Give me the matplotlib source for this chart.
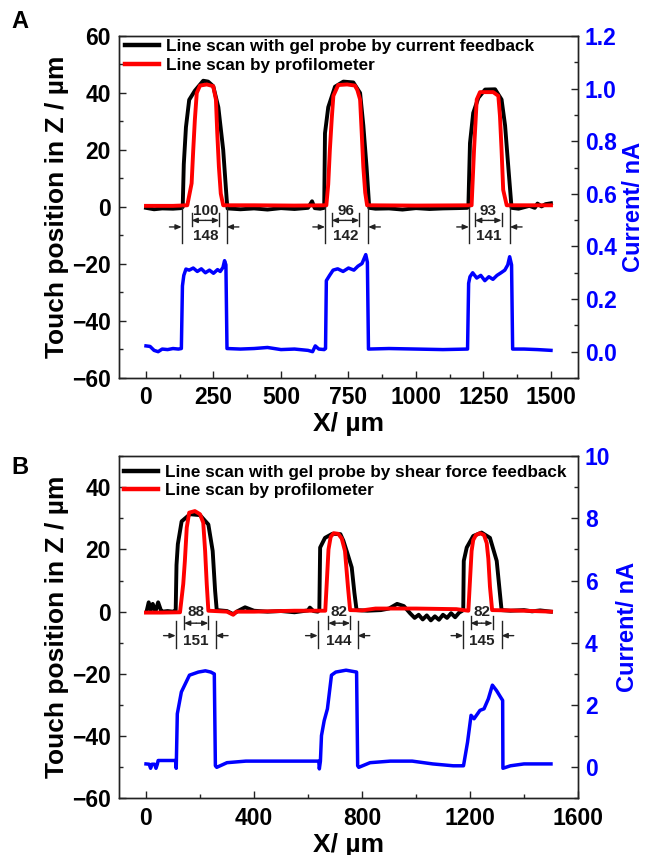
import matplotlib
matplotlib.use("Agg")
import matplotlib.pyplot as plt
from matplotlib.ticker import MultipleLocator

plt.rcParams['font.family'] = ['Liberation Sans', 'DejaVu Sans']
plt.rcParams['font.weight'] = 'bold'

# ---------------- Panel A data ----------------
a_black_x = [0, 30, 60, 100, 130, 136, 140, 148, 160, 181, 212, 230, 249, 268, 286, 299, 302,
             350, 400, 450, 500, 550, 600, 615, 625, 645, 660, 663, 675, 700, 731, 768, 793, 805,
             817, 827, 850, 900, 950, 1000, 1050, 1100, 1150, 1190, 1194, 1200, 1212, 1231, 1256,
             1293, 1317, 1330, 1342, 1354, 1380, 1420, 1440, 1450, 1465, 1480, 1500]
a_black_y = [-0.3, -0.8, -0.5, -0.6, -0.4, 0, 15, 28, 37.6, 40.8, 44.3, 44, 42.4, 35, 20, 2.5, -0.5,
             -0.8, -0.5, -0.9, -0.4, -0.7, -0.3, 2, -0.4, -0.6, -0.3, 25.9, 35, 42.2, 44, 43.7, 40, 28.6,
             14, -0.3, -0.6, -0.5, -0.9, -0.4, -0.7, -0.5, -0.4, -0.3, 0, 22.4, 33, 38.3, 41.2,
             41.3, 37.7, 28.6, 14, -0.3, -0.6, 0.4, -0.3, 1.2, 0.2, 1.0, 1.3]

a_red_x = [0, 100, 153, 169, 175, 181, 188, 200, 225, 249, 259, 264, 270, 277, 286,
           400, 550, 668, 675, 681, 688, 694, 712, 745, 774, 783, 793, 799, 805, 812, 819,
           1000, 1206, 1215, 1225, 1237, 1286, 1305, 1311, 1317, 1323, 1336, 1500]
a_red_y = [0.4, 0.4, 0.6, 8.3, 20, 30.6, 40, 42.6, 43, 42.4, 37.7, 25.9, 14.1, 4.7, 0.6,
           0.6, 0.5, 0.6, 8, 20, 31, 39, 42.8, 43, 42.6, 41, 37.7, 26, 14, 5, 0.6,
           0.5, 0.6, 20, 37.7, 40.3, 40.3, 39, 32, 20, 6, 0.6, 0.6]

a_blue_x = [0, 15, 30, 45, 60, 80, 100, 120, 131, 135, 140, 148, 160, 175, 190, 205, 220, 235, 250,
            265, 275, 285, 291, 296, 300, 350, 400, 450, 500, 550, 600, 617, 627, 640, 660, 665,
            668, 680, 693, 710, 730, 750, 770, 785, 800, 814, 820, 824, 900, 1000, 1100, 1191,
            1195, 1200, 1210, 1225, 1240, 1255, 1270, 1285, 1300, 1315, 1329, 1340, 1347, 1354,
            1358, 1400, 1450, 1500]
a_blue_y = [0.022, 0.02, 0.005, 0.0, 0.01, 0.008, 0.012, 0.01, 0.012, 0.25, 0.29, 0.314, 0.31, 0.318,
            0.305, 0.315, 0.3, 0.31, 0.298, 0.312, 0.305, 0.32, 0.346, 0.33, 0.012, 0.01, 0.012,
            0.016, 0.008, 0.01, 0.005, 0.0, 0.022, 0.01, 0.008, 0.012, 0.27, 0.29, 0.31, 0.315,
            0.305, 0.318, 0.31, 0.325, 0.335, 0.369, 0.34, 0.01, 0.012, 0.01, 0.008, 0.01, 0.26,
            0.285, 0.3, 0.28, 0.29, 0.27, 0.285, 0.275, 0.29, 0.3, 0.31, 0.33, 0.361, 0.33, 0.01,
            0.01, 0.008, 0.005]

a_inner_w = [100, 96, 93]
a_outer_w = [148, 142, 141]
a_inner_l = [169, 688, 1219]
a_inner_r = [271, 790, 1317]
a_outer_l = [132, 663, 1196]
a_outer_r = [299, 823, 1348]

# ---------------- Panel B data ----------------
b_black_x = [2, 10, 18, 25, 35, 45, 55, 60, 80, 100, 110, 113, 118, 132, 163, 200, 231, 247, 256, 262,
             300, 323, 340, 367, 400, 450, 500, 550, 600, 607, 620, 636, 642, 645, 663, 690, 720,
             731, 745, 762, 772, 780, 820, 870, 900, 930, 955, 978, 995, 1010, 1025, 1040, 1055,
             1070, 1085, 1100, 1115, 1130, 1145, 1160, 1170, 1175, 1177, 1188, 1212, 1243, 1274,
             1299, 1317, 1350, 1400, 1430, 1460, 1500]
b_black_y = [0, 3, 0.5, 2.5, 0, 3, 0.5, 0, 0.2, 0, 0.5, 15, 21.7, 29, 31.3, 31, 28, 19.5, 6.7, 0.5,
             0.2, -0.8, 0.2, 1.4, 0.3, 0, 0.2, -0.2, 0.4, 1.3, 0.2, 0, 0.5, 20.6, 23.7, 25, 24.9,
             22.8, 19, 14.2, 6, 0.5, 0.3, 0.5, 1, 2.5, 1.8, -0.5, -2, -1, -2.5, -1.2, -2.8,
             -1.5, -2.6, -1, -2, -0.5, -1.8, -0.3, 0.2, 0.5, 16.3, 20.6, 24.3, 25.4, 23.7,
             16.3, 0.5, 0.3, 0.5, 0.1, 0.4, 0]

b_red_x = [0, 60, 126, 138, 144, 151, 160, 181, 200, 212, 219, 225, 231, 300, 323, 335, 400, 550,
           664, 670, 676, 684, 695, 712, 725, 737, 748, 756, 800, 850, 1000, 1150, 1194, 1200,
           1206, 1212, 1222, 1237, 1252, 1262, 1268, 1274, 1282, 1400, 1500]
b_red_y = [-0.3, -0.3, -0.2, 8.9, 16.3, 27, 31.8, 32.3, 31.3, 28.6, 19.5, 8.9, 0.3, 0, -1, 0, 0, 0.3,
           0.3, 10, 20, 24, 25.2, 25, 23.5, 19.5, 8, 0.5, 0.4, 1, 1, 0.8, 0.3, 10,
           19.5, 23, 24.6, 25.2, 24.6, 22, 17, 8, 0.5, 0.3, 0]

b_blue_x = [0, 12, 17, 22, 32, 37, 42, 45, 87, 110, 112, 116, 131, 161, 194, 220, 240, 253, 257,
            262, 300, 370, 500, 640, 642, 646, 650, 660, 672, 687, 703, 741, 780, 784, 788, 830,
            905, 986, 1062, 1138, 1168, 1176, 1191, 1204, 1215, 1237, 1252, 1268, 1283, 1298,
            1313, 1321, 1322, 1350, 1400, 1500]
b_blue_y = [0.11, 0.1, -0.03, 0.1, 0.1, -0.03, 0.1, 0.22, 0.22, 0.22, -0.03, 1.72, 2.42, 2.96, 3.06,
            3.1, 3.06, 3.0, 0.05, 0.0, 0.15, 0.2, 0.2, 0.2, -0.05, 0.2, 1.02, 1.5, 1.88, 2.96,
            3.06, 3.12, 3.06, 0.05, 0.0, 0.15, 0.2, 0.2, 0.11, 0.05, 0.05, 0.05, 0.81, 1.67,
            1.56, 1.83, 1.88, 2.2, 2.64, 2.47, 2.26, 2.15, -0.03, 0.05, 0.11, 0.11]

b_inner_w = [88, 82, 82]
b_outer_w = [151, 144, 145]
b_inner_l = [141, 675, 1202]
b_inner_r = [231, 756, 1284]
b_outer_l = [110, 636, 1175]
b_outer_r = [259, 784, 1317]

legend_a = ['Line scan with gel probe by current feedback', 'Line scan by profilometer']
legend_b = ['Line scan with gel probe by shear force feedback', 'Line scan by profilometer']

BLUE = '#0000FF'
RED = '#FF0000'
TICK_FS = 16.5
LABEL_FS = 19
RLABEL_FS = 17
LEG_FS = 12.3
ANN_FS = 11

fig = plt.figure(figsize=(6.46, 8.55), dpi=100)


def style_axes(ax, ax2):
    for a in (ax, ax2):
        for s in a.spines.values():
            s.set_linewidth(1.0)
            s.set_color('#222222')
    ax.tick_params(axis='both', which='both', direction='in', top=False, right=False,
                   labelsize=TICK_FS, width=1.0, colors='#222222', labelcolor='black')
    ax.tick_params(which='major', length=5, pad=6)
    ax.tick_params(which='minor', length=3)
    ax2.tick_params(axis='y', which='both', direction='in', labelsize=TICK_FS, width=1.0,
                    colors='#222222', labelcolor=BLUE)
    ax2.tick_params(which='major', length=5, pad=5)
    ax2.tick_params(which='minor', length=3)
    for lab in ax.get_xticklabels() + ax.get_yticklabels() + ax2.get_yticklabels():
        lab.set_fontweight('bold')


def annotate_widths(ax, il, ir, ol, or_, iw, ow, y_txt1, y_in_top, y_in_bot, y_in_arr,
                    y_out_top, y_out_bot, y_out_arr, y_txt2, arrow_len):
    ap = dict(arrowstyle='-|>,head_length=0.35,head_width=0.15', color='#222222', lw=1.0,
              shrinkA=0, shrinkB=0)
    for k in range(len(iw)):
        xc = (il[k] + ir[k]) / 2
        for xv in (il[k], ir[k]):
            ax.plot([xv, xv], [y_in_top, y_in_bot], color='#222222', lw=1.0)
        ax.annotate('', xy=(il[k], y_in_arr), xytext=(xc, y_in_arr), arrowprops=ap)
        ax.annotate('', xy=(ir[k], y_in_arr), xytext=(xc, y_in_arr), arrowprops=ap)
        ax.text(xc, y_txt1, str(iw[k]), ha='center', va='center', fontsize=ANN_FS,
                fontweight='bold', color='#222222')
        for xv in (ol[k], or_[k]):
            ax.plot([xv, xv], [y_out_top, y_out_bot], color='#222222', lw=1.0)
        ax.annotate('', xy=(ol[k], y_out_arr), xytext=(ol[k] - arrow_len, y_out_arr), arrowprops=ap)
        ax.annotate('', xy=(or_[k], y_out_arr), xytext=(or_[k] + arrow_len, y_out_arr), arrowprops=ap)
        ax.text(xc, y_txt2, str(ow[k]), ha='center', va='center', fontsize=ANN_FS,
                fontweight='bold', color='#222222')


def add_legend(ax, anchor):
    lg = ax.legend(loc='upper left', bbox_to_anchor=anchor, frameon=False, fontsize=LEG_FS,
                   handlelength=2.0, handletextpad=0.4, labelspacing=0.22, borderpad=0,
                   borderaxespad=0)
    for t in lg.get_texts():
        t.set_fontweight('bold')
    for l in lg.get_lines():
        l.set_linewidth(3.2)


# ---------------- Panel A ----------------
axA = fig.add_axes([0.1842, 0.5579, 0.7105, 0.4])
axA.plot(a_black_x, a_black_y, color='black', lw=2.8, solid_joinstyle='round', label=legend_a[0])
axA.plot(a_red_x, a_red_y, color=RED, lw=2.8, solid_joinstyle='round', label=legend_a[1])
axA.set_xlim(-100, 1600)
axA.set_ylim(-60, 60)
axA.xaxis.set_major_locator(MultipleLocator(250))
axA.xaxis.set_minor_locator(MultipleLocator(125))
axA.yaxis.set_major_locator(MultipleLocator(20))
axA.yaxis.set_minor_locator(MultipleLocator(10))
axA2 = axA.twinx()
axA2.plot(a_blue_x, a_blue_y, color=BLUE, lw=2.5, solid_joinstyle='round')
axA2.set_ylim(-0.1, 1.2)
axA2.yaxis.set_major_locator(MultipleLocator(0.2))
axA2.yaxis.set_minor_locator(MultipleLocator(0.1))
axA2.yaxis.set_major_formatter(matplotlib.ticker.FormatStrFormatter('%.1f'))
style_axes(axA, axA2)
axA.set_ylabel('Touch position in Z / µm', fontsize=LABEL_FS, fontweight='bold', labelpad=2)
axA2.set_ylabel('Current/ nA', fontsize=RLABEL_FS, fontweight='bold', color=BLUE, labelpad=4)
axA.set_xlabel('X/ µm', fontsize=LABEL_FS, fontweight='bold', labelpad=2)
add_legend(axA, (0.012, 0.99))
annotate_widths(axA, a_inner_l, a_inner_r, a_outer_l, a_outer_r, a_inner_w, a_outer_w,
                y_txt1=-1.3, y_in_top=-2.2, y_in_bot=-6.5, y_in_arr=-4.7,
                y_out_top=-0.1, y_out_bot=-12.5, y_out_arr=-7.0, y_txt2=-10.3, arrow_len=45)
fig.text(20 / 646, 1 - 22 / 855, 'A', fontsize=17, fontweight='bold', ha='center', va='center')

# ---------------- Panel B ----------------
axB = fig.add_axes([0.1842, 0.0661, 0.7105, 0.4006])
axB.plot(b_black_x, b_black_y, color='black', lw=2.8, solid_joinstyle='round', label=legend_b[0])
axB.plot(b_red_x, b_red_y, color=RED, lw=2.8, solid_joinstyle='round', label=legend_b[1])
axB.set_xlim(-100, 1600)
axB.set_ylim(-60, 50)
axB.xaxis.set_major_locator(MultipleLocator(400))
axB.xaxis.set_minor_locator(MultipleLocator(200))
axB.yaxis.set_major_locator(MultipleLocator(20))
axB.yaxis.set_minor_locator(MultipleLocator(10))
axB2 = axB.twinx()
axB2.plot(b_blue_x, b_blue_y, color=BLUE, lw=2.5, solid_joinstyle='round')
axB2.set_ylim(-1, 10)
axB2.yaxis.set_major_locator(MultipleLocator(2))
axB2.yaxis.set_minor_locator(MultipleLocator(1))
style_axes(axB, axB2)
axB.set_ylabel('Touch position in Z / µm', fontsize=LABEL_FS, fontweight='bold', labelpad=2)
axB2.set_ylabel('Current/ nA', fontsize=RLABEL_FS, fontweight='bold', color=BLUE, labelpad=4)
axB.set_xlabel('X/ µm', fontsize=LABEL_FS, fontweight='bold', labelpad=2)
add_legend(axB, (0.010, 0.975))
annotate_widths(axB, b_inner_l, b_inner_r, b_outer_l, b_outer_r, b_inner_w, b_outer_w,
                y_txt1=-0.2, y_in_top=-1.3, y_in_bot=-5.5, y_in_arr=-3.7,
                y_out_top=-2.9, y_out_bot=-11.8, y_out_arr=-7.7, y_txt2=-9.3, arrow_len=45)
fig.text(20 / 646, 1 - 467 / 855, 'B', fontsize=17, fontweight='bold', ha='center', va='center')

fig.savefig('out.png', dpi=100)
